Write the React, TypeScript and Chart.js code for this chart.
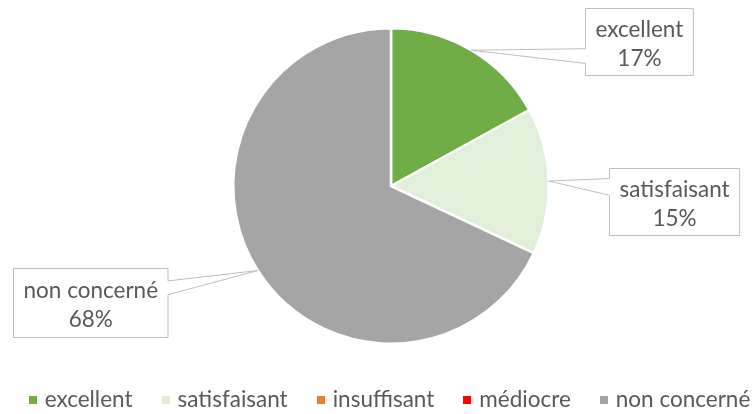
import React, { useEffect, useRef } from "react";
import { Chart, registerables } from "chart.js";

Chart.register(...registerables);

const categories = ["excellent", "satisfaisant", "insuffisant", "médiocre", "non concerné"];
const values = [17, 15, 0, 0, 68];
const percentLabels = ["17%", "15%", "0%", "0%", "68%"];
const colors = ["#70AD47", "#E2EFDA", "#ED7D31", "#FF0000", "#A5A5A5"];

const FONT = "Lato, 'Open Sans', sans-serif";
const FONT_SIZE = 22.5;
const TEXT_COLOR = "#595959";
const LINE_COLOR = "#BFBFBF";

// callout layout (box centre, attach side and attach fractions along that side)
const calloutLayout: Record<number, { cx: number; cy: number; h: number; side: "left" | "right"; a: [number, number] }> = {
  0: { cx: 638.5, cy: 41.5, h: 67, side: "left", a: [0.6, 0.82] },
  1: { cx: 674.5, cy: 201.5, h: 67, side: "left", a: [0.15, 0.4] },
  4: { cx: 90, cy: 302.5, h: 69, side: "right", a: [0.18, 0.38] },
};

const calloutPlugin = {
  id: "callouts",
  afterDraw(chart: any) {
    const ctx = chart.ctx as CanvasRenderingContext2D;
    const meta = chart.getDatasetMeta(0);
    ctx.save();
    ctx.font = `${FONT_SIZE}px ${FONT}`;
    Object.keys(calloutLayout).forEach((k) => {
      const i = Number(k);
      const arc = meta.data[i];
      if (!arc) return;
      const lay = calloutLayout[i];
      const { x, y, startAngle, endAngle, outerRadius } = arc.getProps(
        ["x", "y", "startAngle", "endAngle", "outerRadius"],
        true
      );
      const mid = (startAngle + endAngle) / 2;
      const tx = x + Math.cos(mid) * outerRadius;
      const ty = y + Math.sin(mid) * outerRadius;
      const line1 = categories[i];
      const line2 = percentLabels[i];
      const w = Math.max(ctx.measureText(line1).width, ctx.measureText(line2).width) + 20;
      const h = lay.h;
      const l = Math.round(lay.cx - w / 2) + 0.5;
      const t = Math.round(lay.cy - h / 2) + 0.5;
      const r = l + w;
      const b = t + h;
      const y1 = t + h * lay.a[0];
      const y2 = t + h * lay.a[1];
      ctx.beginPath();
      if (lay.side === "left") {
        ctx.moveTo(l, t);
        ctx.lineTo(r, t);
        ctx.lineTo(r, b);
        ctx.lineTo(l, b);
        ctx.lineTo(l, y2);
        ctx.lineTo(tx, ty);
        ctx.lineTo(l, y1);
        ctx.closePath();
      } else {
        ctx.moveTo(l, t);
        ctx.lineTo(r, t);
        ctx.lineTo(r, y1);
        ctx.lineTo(tx, ty);
        ctx.lineTo(r, y2);
        ctx.lineTo(r, b);
        ctx.lineTo(l, b);
        ctx.closePath();
      }
      ctx.fillStyle = "#FFFFFF";
      ctx.fill();
      ctx.strokeStyle = LINE_COLOR;
      ctx.lineWidth = 1;
      ctx.stroke();
      ctx.fillStyle = TEXT_COLOR;
      ctx.textAlign = "center";
      ctx.textBaseline = "alphabetic";
      ctx.fillText(line1, (l + r) / 2, lay.cy - 5);
      ctx.fillText(line2, (l + r) / 2, lay.cy + 24);
    });
    ctx.restore();
  },
};

const legendPlugin = {
  id: "customLegend",
  afterDraw(chart: any) {
    const ctx = chart.ctx as CanvasRenderingContext2D;
    ctx.save();
    ctx.font = `${FONT_SIZE}px ${FONT}`;
    const box = 8;
    const gapBoxText = 8;
    const gapItems = 29;
    const widths = categories.map((c) => box + gapBoxText + ctx.measureText(c).width);
    const total = widths.reduce((a, b) => a + b, 0) + gapItems * (categories.length - 1);
    let x = 389.5 - total / 2;
    categories.forEach((c, i) => {
      ctx.fillStyle = colors[i];
      ctx.fillRect(Math.round(x), 396, box, box);
      ctx.fillStyle = TEXT_COLOR;
      ctx.textAlign = "left";
      ctx.textBaseline = "alphabetic";
      ctx.fillText(c, x + box + gapBoxText, 407);
      x += widths[i] + gapItems;
    });
    ctx.restore();
  },
};

export default function App() {
  const ref = useRef<HTMLCanvasElement | null>(null);
  useEffect(() => {
    document.body.style.margin = "0";
    if (!ref.current) return;
    const chart = new Chart(ref.current, {
      type: "pie",
      data: {
        labels: categories,
        datasets: [
          {
            data: values,
            backgroundColor: colors,
            borderColor: "#FFFFFF",
            borderWidth: 2.5,
          },
        ],
      },
      options: {
        animation: false,
        responsive: false,
        layout: { padding: { top: 27, bottom: 69, left: 28, right: 0 } },
        plugins: {
          legend: { display: false },
          tooltip: { enabled: false },
        },
      },
      plugins: [calloutPlugin, legendPlugin],
    });
    return () => chart.destroy();
  }, []);
  return (
    <div style={{ width: 754, height: 414, background: "#fff" }}>
      <canvas ref={ref} width={754} height={414} style={{ display: "block" }} />
    </div>
  );
}
